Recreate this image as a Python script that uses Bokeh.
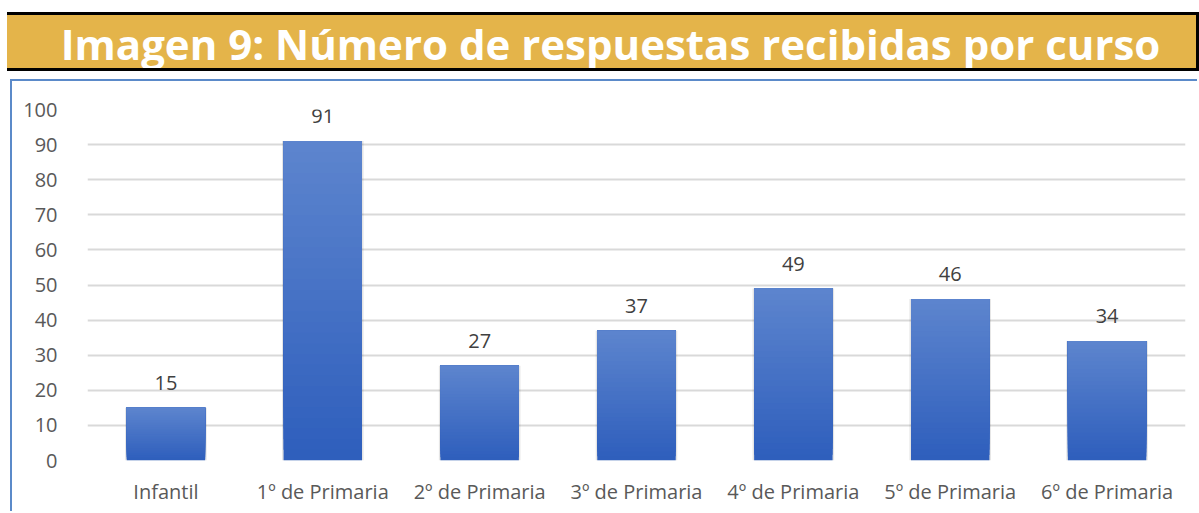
from bokeh.plotting import figure
from bokeh.layouts import column
from bokeh.models import FactorRange, Range1d, FixedTicker, Div
from bokeh.core.properties import value
from bokeh.embed import file_html
from bokeh.resources import INLINE

# ---------------- data ----------------
title_text = "Imagen 9: Número de respuestas recibidas por curso"
categories = ["Infantil", "1º de Primaria", "2º de Primaria", "3º de Primaria",
              "4º de Primaria", "5º de Primaria", "6º de Primaria"]
respuestas = [15, 91, 27, 37, 49, 46, 34]
y_ticks = [0, 10, 20, 30, 40, 50, 60, 70, 80, 90, 100]

# ---------------- styles ----------------
GOLD = "#E4B44A"
BORDER_BLUE = "#5B8AC9"
TOP_RGB = (0x5D, 0x85, 0xCE)
BOT_RGB = (0x2E, 0x5E, 0xBC)
FONT = value("Open Sans")

# ---------------- banner ----------------
banner_style = (
    "margin:12px 0 0 7px; box-sizing:border-box; height:59px; width:1192px;"
    f"background:{GOLD}; border-top:3px solid black; border-bottom:3px solid black;"
    "border-right:3px solid black; color:white; font-family:'Open Sans';"
    "font-weight:bold; font-size:42px; line-height:57px; text-align:center;"
    "white-space:nowrap; padding-left:18px; overflow:hidden;"
)
banner = Div(text=f'<div style="{banner_style}">{title_text}</div>',
             width=1199, height=79, margin=(0, 0, 0, 0))

# ---------------- chart ----------------
p = figure(x_range=FactorRange(*categories), y_range=Range1d(0, 100),
           width=1187, height=432, output_backend="svg", toolbar_location=None,
           min_border_left=75, min_border_right=14, min_border_top=28, min_border_bottom=53,
           margin=(0, 0, 0, 10),
           styles={"border-top": f"2px solid {BORDER_BLUE}",
                   "border-left": f"2px solid {BORDER_BLUE}"})
p.outline_line_color = None
p.background_fill_color = "white"
p.border_fill_color = "white"

# gradient bars (each bar shaded from its bottom to its top)
n = 30
xs, bottoms, tops, colors = [], [], [], []
for i in range(n):
    f = (i + 0.5) / n
    r = round(BOT_RGB[0] + (TOP_RGB[0] - BOT_RGB[0]) * f)
    g = round(BOT_RGB[1] + (TOP_RGB[1] - BOT_RGB[1]) * f)
    b = round(BOT_RGB[2] + (TOP_RGB[2] - BOT_RGB[2]) * f)
    col = "#%02x%02x%02x" % (r, g, b)
    for c, v in zip(categories, respuestas):
        xs.append(c)
        bottoms.append(v * i / n)
        tops.append(v)
        colors.append(col)

# soft shadow
p.vbar(x=categories, top=respuestas, bottom=0, width=0.52, fill_color="#000000",
       fill_alpha=0.10, line_color=None)
p.vbar(x=xs, bottom=bottoms, top=tops, width=0.5, fill_color=colors, line_color=None)

# value labels
p.text(x=categories, y=respuestas, text=[str(v) for v in respuestas],
       text_font=FONT, text_font_size="20px", text_color="#404040",
       text_align="center", text_baseline="middle", y_offset=-25)

# axes
p.yaxis.ticker = FixedTicker(ticks=y_ticks)
for ax in (p.xaxis[0], p.yaxis[0]):
    ax.axis_line_color = None
    ax.major_tick_line_color = None
    ax.minor_tick_line_color = None
    ax.major_label_text_font = "Open Sans"
    ax.major_label_text_font_size = "20px"
    ax.major_label_text_color = "#595959"
p.yaxis.major_label_standoff = 24
p.xaxis.major_label_standoff = 11

p.xgrid.grid_line_color = None
p.ygrid.grid_line_color = "#D9D9D9"
p.ygrid.grid_line_width = 2

layout = column(banner, p, spacing=0)
open("out.html", "w").write(file_html(layout, INLINE))
